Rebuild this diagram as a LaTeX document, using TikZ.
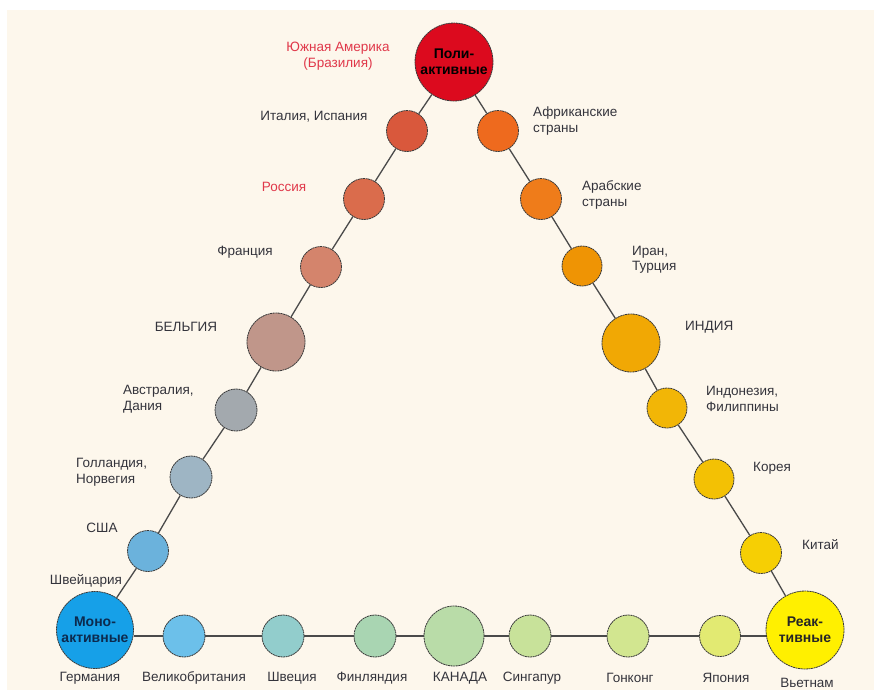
\documentclass[tikz,border=0pt]{standalone}
\usepackage{fontspec}
\setmainfont{Liberation Sans}
\definecolor{bgcream}{HTML}{FDF7EC}
\definecolor{txt}{HTML}{34343C}
\definecolor{redtxt}{HTML}{E0384A}
\definecolor{conncol}{HTML}{4A4A4A}
\definecolor{rimcol}{HTML}{3A3A3A}
\definecolor{cpoly}{HTML}{DC0A1E}
\definecolor{cital}{HTML}{D9583C}
\definecolor{crus}{HTML}{DA6C4C}
\definecolor{cfra}{HTML}{D4846C}
\definecolor{cbel}{HTML}{C0968A}
\definecolor{caus}{HTML}{A3A9AE}
\definecolor{chol}{HTML}{9EB5C4}
\definecolor{cusa}{HTML}{6BB2DC}
\definecolor{cmono}{HTML}{16A0E8}
\definecolor{cuk}{HTML}{6CC0EA}
\definecolor{cswe}{HTML}{92CDCC}
\definecolor{cfin}{HTML}{A9D5B2}
\definecolor{ccan}{HTML}{B9DCA8}
\definecolor{csin}{HTML}{C8E29A}
\definecolor{chk}{HTML}{D2E690}
\definecolor{cjap}{HTML}{E2EA72}
\definecolor{creac}{HTML}{FFF000}
\definecolor{cafr}{HTML}{EE6A1E}
\definecolor{carab}{HTML}{EF7C1A}
\definecolor{ciran}{HTML}{EF9404}
\definecolor{cind}{HTML}{F1A804}
\definecolor{cindo}{HTML}{F2B606}
\definecolor{ckor}{HTML}{F3C104}
\definecolor{cchi}{HTML}{F6CF04}
\definecolor{monotxt}{HTML}{0C2A4E}
\begin{document}
\begin{tikzpicture}[x=1pt,y=-1pt,
  ball/.style={circle, draw=rimcol, line width=0.8pt, dash pattern=on 2pt off 0.6pt,
    inner sep=0pt, minimum size=#1},
  bigtxt/.style={font=\fontsize{14}{16}\bfseries\selectfont, align=center},
  lbl/.style={font=\fontsize{13.5}{15.5}\selectfont, text=txt, inner sep=0pt, align=center},
  lblw/.style={lbl, anchor=west, align=left},
  conn/.style={draw=conncol, line width=1.3pt}]
\fill[white] (0,0) rectangle (874,696);
\fill[bgcream] (7,10) rectangle (874,690);
\useasboundingbox (0,0) rectangle (874,696);

% circles
\node[ball=78pt, fill=cpoly, bigtxt, text=black] (poly) at (454,62) {Поли-\\активные};
\node[ball=41pt, fill=cital] (ital) at (407,131) {};
\node[ball=41pt, fill=crus]  (rus)  at (364,199) {};
\node[ball=41pt, fill=cfra]  (fra)  at (321,267) {};
\node[ball=58pt, fill=cbel]  (bel)  at (276,342) {};
\node[ball=42pt, fill=caus]  (aus)  at (236,410) {};
\node[ball=42pt, fill=chol]  (hol)  at (191,477) {};
\node[ball=41pt, fill=cusa]  (usa)  at (148,551) {};
\node[ball=77pt, fill=cmono, bigtxt, text=monotxt] (mono) at (95,630) {Моно-\\активные};

\node[ball=42pt, fill=cuk]  (uk)  at (184,636) {};
\node[ball=42pt, fill=cswe] (swe) at (283,636) {};
\node[ball=42pt, fill=cfin] (fin) at (375,636) {};
\node[ball=60pt, fill=ccan] (can) at (454,636) {};
\node[ball=42pt, fill=csin] (sin) at (530,636) {};
\node[ball=42pt, fill=chk]  (hk)  at (628,636) {};
\node[ball=41pt, fill=cjap] (jap) at (720,636) {};
\node[ball=78pt, fill=creac, bigtxt, text=black!85] (reac) at (805,630) {Реак-\\тивные};

\node[ball=41pt, fill=cafr]  (afr)  at (498,131) {};
\node[ball=41pt, fill=carab] (arab) at (541,199) {};
\node[ball=40pt, fill=ciran] (iran) at (582,266) {};
\node[ball=58pt, fill=cind]  (ind)  at (631,343) {};
\node[ball=40pt, fill=cindo] (indo) at (667,408) {};
\node[ball=40pt, fill=ckor]  (kor)  at (714,479) {};
\node[ball=41pt, fill=cchi]  (chi)  at (761,553) {};

% connectors
\draw[conn] (poly) -- (ital) -- (rus) -- (fra) -- (bel) -- (aus) -- (hol) -- (usa) -- (mono);
\draw[conn] (uk.west -| mono.east) -- (uk) -- (swe) -- (fin) -- (can) -- (sin) -- (hk) -- (jap) -- (jap.east -| reac.west);
\draw[conn] (poly) -- (afr) -- (arab) -- (iran) -- (ind) -- (indo) -- (kor) -- (chi) -- (reac);

% labels, left side
\node[lbl, text=redtxt] (lsa) at (338,56) {Южная Америка\\(Бразилия)};
\node[lbl] (lital) at (314,117) {Италия, Испания};
\node[lbl, text=redtxt] (lrus) at (284,187) {Россия};
\node[lbl] (lfra) at (245,252) {Франция};
\node[lbl] (lbel) at (186,327) {БЕЛЬГИЯ};
\node[lblw] (laus) at (123,399) {Австралия,\\Дания};
\node[lblw] (lhol) at (76,472) {Голландия,\\Норвегия};
\node[lbl] (lusa) at (102,528) {США};
\node[lbl] (lswi) at (86,581) {Швейцария};

% labels, bottom
\node[lbl] (lger) at (90,678) {Германия};
\node[lbl] (luk)  at (194,678) {Великобритания};
\node[lbl] (lswe) at (292,678) {Швеция};
\node[lbl] (lfin) at (372,678) {Финляндия};
\node[lbl] (lcan) at (460,678) {КАНАДА};
\node[lbl] (lsin) at (532,678) {Сингапур};
\node[lbl] (lhk)  at (630,678) {Гонконг};
\node[lbl] (ljap) at (726,678) {Япония};
\node[lbl] (lvie) at (807,683) {Вьетнам};

% labels, right side
\node[lblw] (lafr)  at (533,121) {Африканские\\страны};
\node[lblw] (larab) at (582,195) {Арабские\\страны};
\node[lblw] (liran) at (632,260) {Иран,\\Турция};
\node[lblw] (lind)  at (685,327) {ИНДИЯ};
\node[lblw] (lindo) at (706,399) {Индонезия,\\Филиппины};
\node[lblw] (lkor)  at (753,468) {Корея};
\node[lblw] (lchi)  at (802,545) {Китай};
\end{tikzpicture}
\end{document}
